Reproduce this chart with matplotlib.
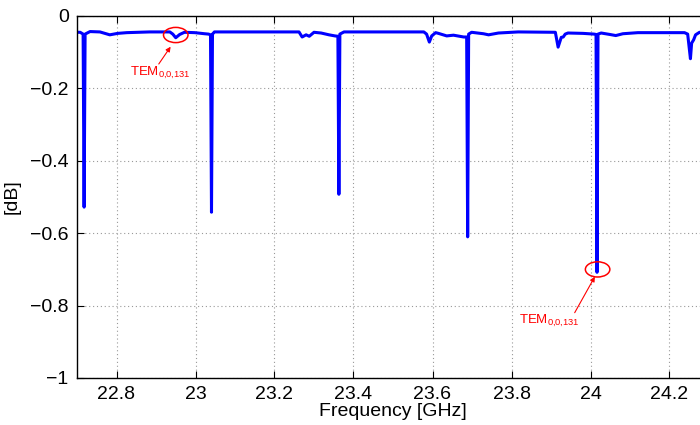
import matplotlib.pyplot as plt
from matplotlib.patches import Ellipse

plt.rcParams['font.family'] = ['Liberation Sans', 'DejaVu Sans']
plt.rcParams['mathtext.default'] = 'regular'

# measured transmission trace
freq_ghz = [22.700, 22.708, 22.7155, 22.718, 22.7205, 22.733, 22.758, 22.783, 22.803,
            22.826, 22.884, 22.935, 22.9425, 22.950, 22.960, 22.972, 22.998, 23.023,
            23.033, 23.038, 23.0405, 23.043, 23.048, 23.111, 23.187, 23.262, 23.270,
            23.280, 23.288, 23.300, 23.318, 23.338, 23.353, 23.3605, 23.363, 23.3655,
            23.376, 23.464, 23.578, 23.585, 23.592, 23.598, 23.608, 23.615, 23.636,
            23.653, 23.679, 23.6865, 23.689, 23.6915, 23.699, 23.729, 23.742, 23.767,
            23.817, 23.911, 23.918, 23.926, 23.931, 23.936, 23.943, 23.981, 24.009,
            24.014, 24.0165, 24.019, 24.027, 24.049, 24.064, 24.082, 24.120, 24.238,
            24.246, 24.253, 24.256, 24.261, 24.266, 24.276, 24.300]
s21_db = [-0.045, -0.045, -0.050, -0.528, -0.050, -0.043, -0.044, -0.052, -0.048,
          -0.046, -0.044, -0.044, -0.050, -0.060, -0.051, -0.045, -0.046, -0.049,
          -0.050, -0.052, -0.542, -0.050, -0.044, -0.044, -0.044, -0.044, -0.058,
          -0.052, -0.056, -0.045, -0.047, -0.052, -0.055, -0.056, -0.4925, -0.050,
          -0.044, -0.044, -0.044, -0.050, -0.072, -0.055, -0.046, -0.048, -0.055,
          -0.053, -0.058, -0.058, -0.610, -0.050, -0.045, -0.049, -0.052, -0.047,
          -0.044, -0.045, -0.086, -0.059, -0.058, -0.050, -0.047, -0.048, -0.050,
          -0.051, -0.708, -0.050, -0.047, -0.051, -0.054, -0.049, -0.046, -0.046,
          -0.050, -0.118, -0.075, -0.066, -0.052, -0.045, -0.045]

x_ticks = [22.8, 23.0, 23.2, 23.4, 23.6, 23.8, 24.0, 24.2]
x_tick_labels = ['22.8', '23', '23.2', '23.4', '23.6', '23.8', '24', '24.2']
y_ticks = [-1.0, -0.8, -0.6, -0.4, -0.2, 0.0]
y_tick_labels = ['\u22121', '\u22120.8', '\u22120.6', '\u22120.4', '\u22120.2', '0']

# marked modes: ellipse centre, label position, arrow tail, arrow head
mode_label = 'TEM$_{0{,}0{,}131}$'
marks = [
    (22.950, -0.0525, 22.835, -0.1657, 22.907, -0.1326, 22.937, -0.0848),
    (24.018, -0.700, 23.819, -0.851, 23.960, -0.8196, 24.011, -0.720),
]

fig = plt.figure(figsize=(7, 4.25), dpi=100)
ax = fig.add_axes([77 / 700, 1 - 378 / 425, 632 / 700, 362 / 425])

ax.plot(freq_ghz, s21_db, color='#0000ff', lw=2.2)

for fx, fy, tx, ty, ax0, ay0, ax1, ay1 in marks:
    ax.add_patch(Ellipse((fx, fy), 0.062, 0.042, fill=False, ec='red', lw=1.1, zorder=4))
    ax.text(tx, ty, mode_label, color='red', fontsize=9.5, ha='left', va='baseline')
    ax.annotate('', xy=(ax1, ay1), xytext=(ax0, ay0),
                arrowprops=dict(arrowstyle='-|>', color='red', lw=0.8,
                                mutation_scale=7, shrinkA=0, shrinkB=0))

ax.set_xlim(22.7, 24.3)
ax.set_ylim(-1, 0)
ax.set_xticks(x_ticks)
ax.set_xticklabels(x_tick_labels)
ax.set_yticks(y_ticks)
ax.set_yticklabels(y_tick_labels)
ax.tick_params(direction='in', top=True, right=True, length=5, width=0.8,
               labelsize=14, pad=6)
ax.grid(True, color='#999999', linestyle=(0, (1, 2.5)), linewidth=0.8)
for sp in ax.spines.values():
    sp.set_linewidth(1.0)

ax.set_xlabel('Frequency [GHz]', fontsize=14, labelpad=0)
ax.set_ylabel('[dB]', fontsize=14, labelpad=7)

fig.savefig('out.png', dpi=100)
